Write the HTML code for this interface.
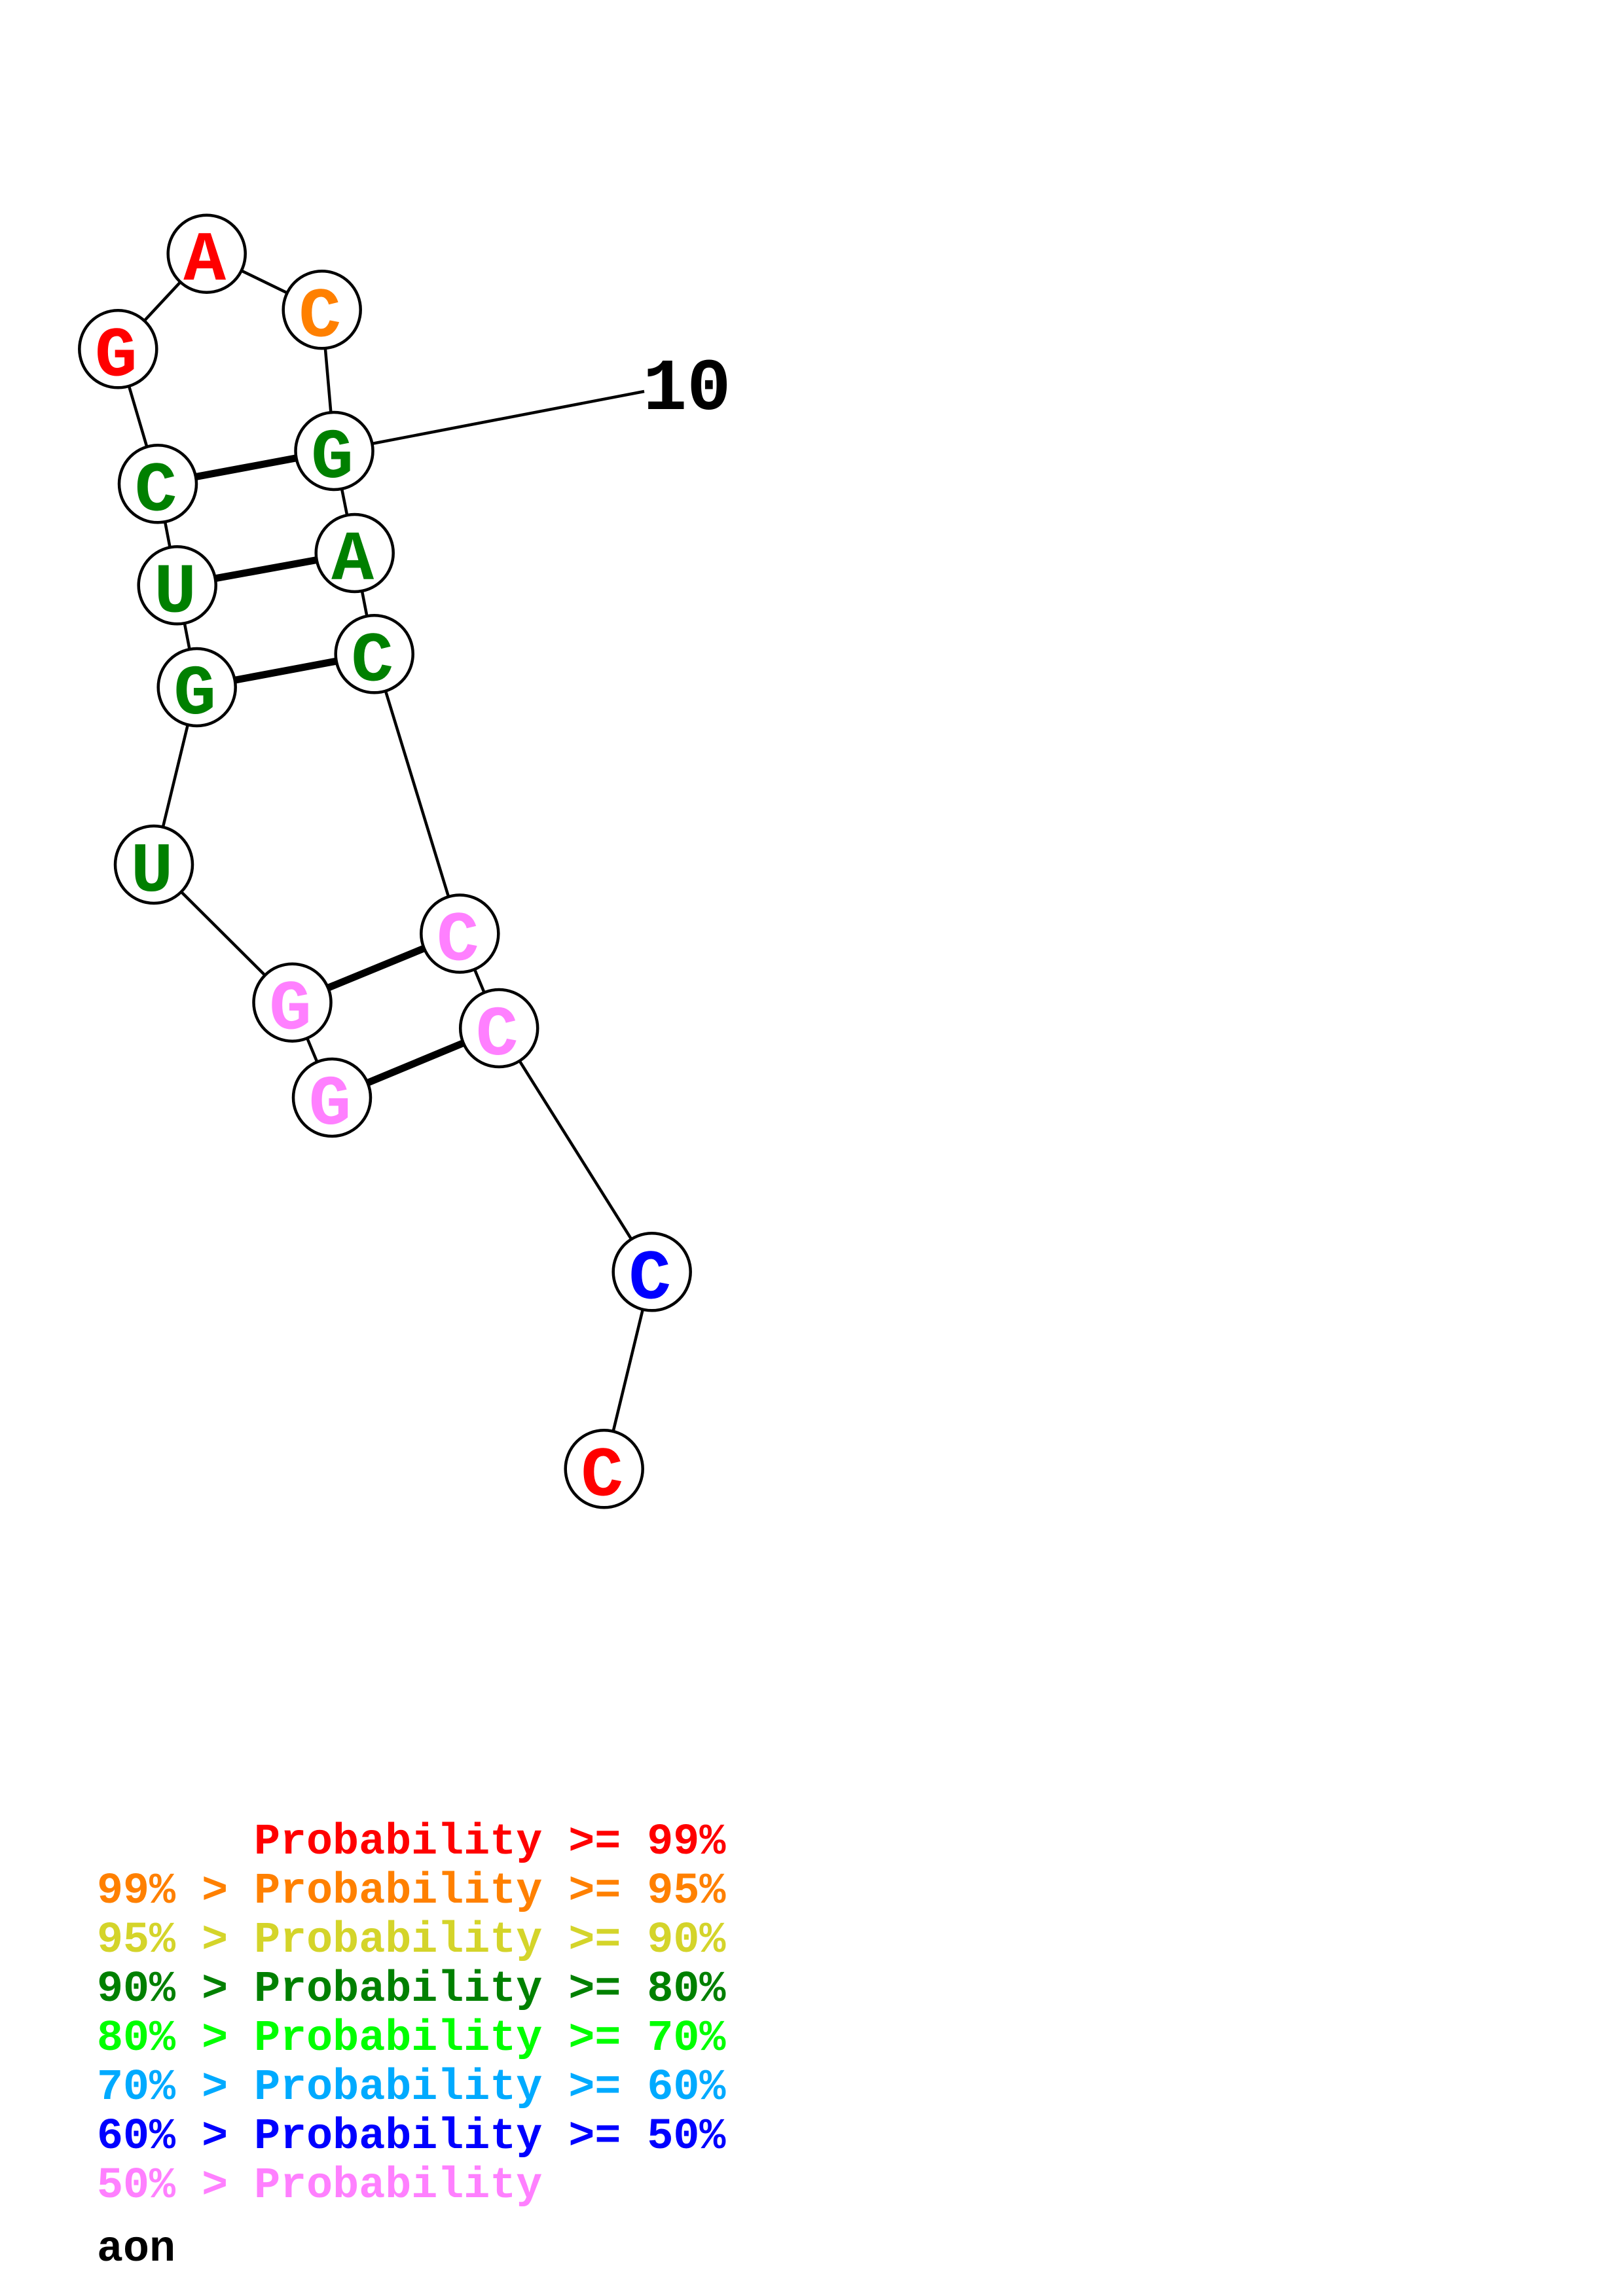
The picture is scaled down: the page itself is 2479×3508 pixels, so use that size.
<!DOCTYPE html>
<html>
<head>
<meta charset="utf-8">
<style>
html,body{margin:0;padding:0;background:#fff;}
svg{display:block;}
text{font-family:"Liberation Mono","DejaVu Sans Mono",monospace;font-weight:bold;}
</style>
</head>
<body>
<svg width="2479" height="3508" viewBox="0 0 2479 3508" xmlns="http://www.w3.org/2000/svg">
<rect width="2479" height="3508" fill="#fff"/>
<!-- backbone -->
<g stroke="#000" stroke-width="4.5" fill="none">
<line x1="507" y1="1677" x2="446.5" y2="1531.7"/>
<line x1="446.5" y1="1531.7" x2="235" y2="1321"/>
<line x1="235" y1="1321" x2="300.7" y2="1050"/>
<line x1="300.7" y1="1050" x2="270.7" y2="894.3"/>
<line x1="270.7" y1="894.3" x2="241" y2="739.3"/>
<line x1="241" y1="739.3" x2="180.3" y2="533.3"/>
<line x1="180.3" y1="533.3" x2="315.7" y2="387.7"/>
<line x1="315.7" y1="387.7" x2="491.7" y2="473.3"/>
<line x1="491.7" y1="473.3" x2="510.5" y2="689"/>
<line x1="510.5" y1="689" x2="541.7" y2="845"/>
<line x1="541.7" y1="845" x2="571.7" y2="999.3"/>
<line x1="571.7" y1="999.3" x2="702.3" y2="1426.5"/>
<line x1="702.3" y1="1426.5" x2="762.2" y2="1571"/>
<line x1="762.2" y1="1571" x2="995.7" y2="1943.3"/>
<line x1="995.7" y1="1943.3" x2="922.7" y2="2244.3"/>
<line x1="510.5" y1="689" x2="984" y2="598"/>
</g>
<!-- pairs -->
<g stroke="#000" stroke-width="11" fill="none">
<line x1="241" y1="739.3" x2="510.5" y2="689"/>
<line x1="270.7" y1="894.3" x2="541.7" y2="845"/>
<line x1="300.7" y1="1050" x2="571.7" y2="999.3"/>
<line x1="446.5" y1="1531.7" x2="702.3" y2="1426.5"/>
<line x1="507" y1="1677" x2="762.2" y2="1571"/>
</g>
<!-- nodes -->
<g stroke="#000" stroke-width="4.5" fill="#fff">
<circle cx="507" cy="1677" r="59"/>
<circle cx="446.5" cy="1531.7" r="59"/>
<circle cx="235" cy="1321" r="59"/>
<circle cx="300.7" cy="1050" r="59"/>
<circle cx="270.7" cy="894.3" r="59"/>
<circle cx="241" cy="739.3" r="59"/>
<circle cx="180.3" cy="533.3" r="59"/>
<circle cx="315.7" cy="387.7" r="59"/>
<circle cx="491.7" cy="473.3" r="59"/>
<circle cx="510.5" cy="689" r="59"/>
<circle cx="541.7" cy="845" r="59"/>
<circle cx="571.7" cy="999.3" r="59"/>
<circle cx="702.3" cy="1426.5" r="59"/>
<circle cx="762.2" cy="1571" r="59"/>
<circle cx="995.7" cy="1943.3" r="59"/>
<circle cx="922.7" cy="2244.3" r="59"/>
</g>
<g font-size="108" text-anchor="middle">
<text x="504" y="1717" fill="#ff80ff">G</text>
<text x="443.5" y="1571.7" fill="#ff80ff">G</text>
<text x="232" y="1361" fill="#008000">U</text>
<text x="297.7" y="1090" fill="#008000">G</text>
<text x="267.7" y="934.3" fill="#008000">U</text>
<text x="238" y="779.3" fill="#008000">C</text>
<text x="177.3" y="573.3" fill="#ff0000">G</text>
<text x="312.7" y="427.7" fill="#ff0000">A</text>
<text x="488.7" y="513.3" fill="#ff8000">C</text>
<text x="507.5" y="729" fill="#008000">G</text>
<text x="538.7" y="885" fill="#008000">A</text>
<text x="568.7" y="1039.3" fill="#008000">C</text>
<text x="699.3" y="1466.5" fill="#ff80ff">C</text>
<text x="759.2" y="1611" fill="#ff80ff">C</text>
<text x="992.7" y="1983.3" fill="#0000ff">C</text>
<text x="919.7" y="2284.3" fill="#ff0000">C</text>
</g>
<text x="982" y="625" font-size="112" fill="#000">10</text>
<!-- legend -->
<g font-size="66.7">
<text x="388" y="2832" fill="#ff0000">Probability &gt;= 99%</text>
<text x="148" y="2907" fill="#ff8000">99% &gt; Probability &gt;= 95%</text>
<text x="148" y="2982" fill="#d4d42a">95% &gt; Probability &gt;= 90%</text>
<text x="148" y="3057" fill="#008000">90% &gt; Probability &gt;= 80%</text>
<text x="148" y="3132" fill="#00ff00">80% &gt; Probability &gt;= 70%</text>
<text x="148" y="3207" fill="#00aaff">70% &gt; Probability &gt;= 60%</text>
<text x="148" y="3282" fill="#0000ff">60% &gt; Probability &gt;= 50%</text>
<text x="148" y="3357" fill="#ff80ff">50% &gt; Probability</text>
<text x="148" y="3454" fill="#000">aon</text>
</g>
</svg>
</body>
</html>
